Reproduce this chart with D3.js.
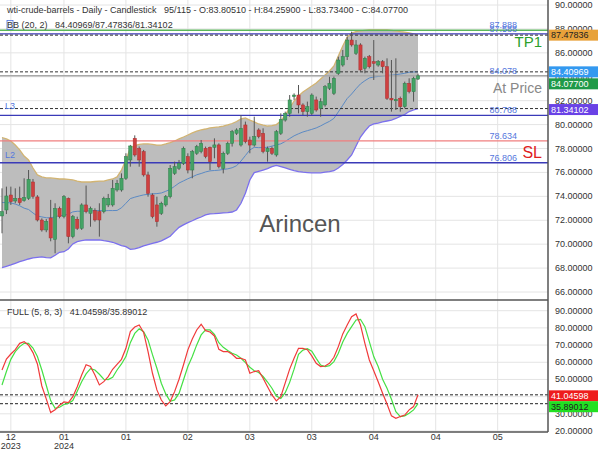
<!DOCTYPE html>
<html><head><meta charset="utf-8">
<script src="https://cdn.jsdelivr.net/npm/d3@7/dist/d3.min.js"></script>
<style>body{margin:0;background:#fff}svg{display:block;font-family:"Liberation Sans",Arial,sans-serif}</style>
</head><body><svg id="c" width="600" height="450"></svg>
<script>
// ---------- DATA ----------
const opens=[72.36,72.86,74.11,73.61,73.83,73.64,73.83,75.2,73.95,72.02,71.19,72.19,70.4,72.99,72.3,73.83,70.63,72.08,71.33,73.28,72.58,72.8,72.72,72.72,73.28,73.28,74.53,74.53,75.51,77.04,78.85,78.0,77.74,75.79,74.11,73.28,72.58,73.28,73.97,75.92,76.34,76.76,77.32,76.2,77.6,77.74,78.02,78.1,78.1,78.3,76.34,77.6,78.43,79.27,78.29,79.97,78.71,78.29,79.55,79.27,77.74,78.02,77.46,79.27,80.38,80.94,82.34,82.47,81.64,81.08,80.94,82.06,81.36,81.64,83.03,82.61,84.28,84.98,85.68,87.07,85.96,86.66,84.7,85.68,85.26,84.98,85.26,84.84,82.2,81.99,82.2,81.5,83.45,82.75,83.805];
const highs=[74.67,74.81,74.81,74.67,74.81,75.51,76.2,75.45,74.1,72.16,72.1,73.7,73.42,73.14,74.11,73.9,72.44,72.3,73.42,74.9,73.14,73.0,73.42,73.97,74.2,75.37,75.37,75.92,77.6,78.3,79.1,78.16,77.88,76.06,74.25,73.97,73.55,74.11,76.62,76.9,77.04,78.16,77.6,77.88,78.3,78.71,78.16,78.16,78.85,78.43,77.74,78.57,79.55,79.69,80.8,80.25,78.99,80.66,79.69,79.69,78.16,78.16,79.55,80.94,81.08,82.47,82.61,83.31,81.78,81.92,82.61,82.34,82.2,83.31,84.0,84.01,85.68,86.24,87.35,87.77,87.07,86.8,85.68,85.82,87.07,85.4,85.4,85.54,85.4,85.54,82.34,83.59,83.87,84.0,84.259];
const lows=[70.91,72.52,73.28,73.42,73.28,73.55,73.7,73.8,71.9,71.05,71.0,70.24,69.24,72.16,72.16,70.07,70.49,71.19,71.19,72.58,71.46,71.88,70.63,72.58,73.1,73.14,74.39,74.39,75.37,76.48,77.32,76.48,75.65,73.97,72.16,71.46,72.44,73.14,73.83,75.79,76.2,76.62,75.92,75.51,77.46,77.6,77.18,76.2,77.18,76.34,75.92,77.46,78.16,79.13,78.16,78.43,77.6,78.16,78.85,77.6,76.9,77.46,77.32,79.13,80.25,80.66,82.06,80.94,80.8,80.66,80.8,81.08,80.66,81.5,82.89,82.47,84.15,84.84,85.4,86.52,85.82,84.43,84.29,84.7,83.73,84.84,84.29,82.06,81.08,81.22,81.08,81.36,82.61,81.92,83.734];
const closes=[72.72,74.03,73.55,73.83,73.47,73.92,75.42,74.0,72.02,71.19,71.9,70.52,72.99,72.3,73.97,70.63,72.3,71.33,73.28,72.72,73.0,72.02,72.02,73.83,73.83,74.67,75.09,75.51,77.32,78.21,77.46,77.04,75.79,74.25,72.3,71.88,73.42,73.97,76.34,76.48,76.76,78.02,76.2,77.74,78.16,78.43,77.32,76.9,78.3,76.48,77.6,78.43,79.41,79.55,79.69,78.57,78.29,78.99,78.99,77.74,78.02,77.6,79.41,80.44,80.94,82.06,82.47,81.64,81.08,81.5,82.47,81.22,81.92,83.17,83.45,83.87,85.4,85.68,87.07,86.66,86.66,84.57,85.54,84.84,85.12,85.26,84.84,82.2,82.06,82.1,81.5,83.45,82.75,83.87,84.077];
const bbUpper=[78.92,78.80,78.63,78.29,77.88,77.37,77.04,76.37,75.79,75.62,75.54,75.54,75.50,75.45,75.45,75.41,75.37,75.28,75.20,75.20,75.20,75.24,75.28,75.28,75.37,75.45,75.62,76.20,77.04,78.04,78.25,78.34,78.38,78.38,78.34,78.29,78.29,78.38,78.50,78.63,78.80,78.96,79.13,79.30,79.46,79.55,79.63,79.72,79.76,79.80,79.88,79.97,80.09,80.26,80.47,80.55,80.38,80.22,80.05,79.95,79.88,79.92,80.00,80.30,80.80,81.39,81.97,82.39,82.73,82.98,83.23,83.48,83.81,84.15,84.48,84.90,85.74,86.57,87.32,87.66,87.78,87.83,87.87,87.91,87.91,87.91,87.91,87.91,87.87,87.83,87.78,87.74,87.66,87.58,87.47836];
const bbMiddle=[73.48,73.48,73.45,73.35,73.21,73.01,72.90,72.61,72.35,72.28,72.21,72.20,72.29,72.39,72.41,72.51,72.70,72.75,72.75,72.78,72.78,72.80,72.82,72.79,72.81,72.81,72.82,73.04,73.42,73.81,73.93,74.03,74.12,74.17,74.21,74.23,74.28,74.42,74.58,74.84,75.11,75.29,75.47,75.63,75.80,75.91,76.04,76.13,76.16,76.19,76.25,76.30,76.39,76.56,76.95,77.41,77.88,78.10,78.07,78.08,78.10,78.20,78.30,78.39,78.59,78.83,79.06,79.23,79.38,79.49,79.60,79.72,79.89,80.09,80.27,80.52,81.06,81.62,82.18,82.56,83.00,83.40,83.67,83.90,83.98,84.02,84.07,84.11,84.13,84.17,84.23,84.29,84.38,84.40,84.40969];
const bbLower=[68.04,68.15,68.26,68.40,68.54,68.65,68.76,68.85,68.90,68.93,68.87,68.85,69.07,69.32,69.37,69.60,70.02,70.21,70.29,70.35,70.35,70.35,70.35,70.29,70.24,70.16,70.02,69.88,69.79,69.57,69.60,69.71,69.85,69.96,70.07,70.16,70.27,70.46,70.66,71.05,71.41,71.61,71.80,71.96,72.13,72.27,72.44,72.53,72.55,72.58,72.61,72.63,72.69,72.86,73.42,74.26,75.37,75.98,76.09,76.20,76.31,76.48,76.59,76.48,76.37,76.26,76.15,76.06,76.02,75.99,75.96,75.96,75.97,76.02,76.06,76.14,76.37,76.66,77.04,77.46,78.21,78.96,79.46,79.88,80.05,80.13,80.22,80.30,80.38,80.51,80.68,80.84,81.09,81.22,81.34102];
const stochK=[55.5,61.9,64.8,67.3,71,72,69.9,65.6,59,46.2,38.7,30.7,32.3,35,36.9,36.5,40,45.8,52.6,58.6,57.5,52.6,46.8,48.7,51.7,55.9,58.8,61.7,68.1,77.8,80.5,81.7,77.4,66.2,53.6,43.9,38,34.6,37.1,42.9,50.1,58.4,67.2,73.5,78.8,82.1,78.4,77.6,75.3,67.5,66.2,66.2,64.6,62.3,62.3,61.3,53.6,54.6,55.1,50.7,45.8,41,37.5,40,48,56,62.3,68.1,68.1,67.3,63.7,59.4,57.5,57.8,59.4,62.9,69.1,76.5,81.7,86.5,88.1,81.7,71,61.3,55.1,48.7,42,35.7,28.8,27.4,28.4,29.3,32.3,34.2,41.04598];
const stochD=[46.8,54.6,61.7,66.2,69.1,71,71,68.3,63.3,55.5,46.6,37.7,33.2,33.8,35.4,36.1,37.7,43.1,48.7,53.2,56.3,55.5,53,50.1,49.9,51.3,55.5,59,63.3,71.4,76.8,79.5,77.8,73,64.4,56.5,47.8,41.6,37.3,38.1,41.9,49.7,57.5,63.3,70.1,75.9,78.8,78.8,76.3,71.4,68.7,66.8,65.2,64.2,62.3,59.8,57.1,55.1,54,51.7,48.5,44.9,40.4,38.9,42.3,48.3,56,64.6,67.1,67.9,66.4,62.3,58.4,57.5,58,60.4,65.2,71.8,76.8,80.7,84.6,85,80.7,72,63.3,57.5,50.1,44.9,38.5,31.3,28.4,28.8,30.3,32.3,35.89012];
const priceTicks=[66,68,70,72,74,76,78,80,82,84,86,88,90];
const oscTicks=[20,30,40,50,60,70,80,90,100];
const xTickIndex=[2,14,28,42,56,70,84,98,112];
const xTickLabels=[["12","2023"],["01","2024"],["01"],["02"],["03"],["03"],["04"],["04"],["05"]];
const levelValues=[87.888,87.588,84.078,80.768,78.634,76.806];
const levelTexts=["87.888","87.588","84.078","80.768","78.634","76.806"];
const bbLast=[84.40969,87.47836,81.34102];
const stochLast=[41.04598,35.89012];
const titleText="wti-crude-barrels - Daily - Candlestick   95/115 - O:83.80510 - H:84.25900 - L:83.73400 - C:84.07700";
const bbText="BB (20, 2)   84.40969/87.47836/81.34102";
const stochText="FULL (5, 8, 3)   41.04598/35.89012";

// ---------- DRAW ----------
const svg=d3.select("#c");
const R=548, mainBottom=300, lowBottom=432;
const idx=d3.range(closes.length);
const x=d3.scaleLinear().domain([0,94]).range([2,418]);
const y=d3.scaleLinear().domain([66,90]).range([292,5]);
const y2=d3.scaleLinear().domain([20,90]).range([431,310.7]);

const defs=svg.append("defs");
defs.append("clipPath").attr("id","cm").append("rect").attr("x",0).attr("y",0).attr("width",R).attr("height",mainBottom);
defs.append("clipPath").attr("id","cl").append("rect").attr("x",0).attr("y",mainBottom).attr("width",R).attr("height",lowBottom-mainBottom);
defs.append("clipPath").attr("id","cla").append("rect").attr("x",R).attr("y",mainBottom+1).attr("width",60).attr("height",lowBottom-mainBottom+20);

// grid
const grid=svg.append("g").attr("stroke","#e4e4e4").attr("stroke-width",1);
grid.selectAll(".vg").data(xTickIndex).join("line").attr("x1",d=>x(d)).attr("x2",d=>x(d)).attr("y1",0).attr("y2",lowBottom);
grid.selectAll(".hg").data(priceTicks).join("line").attr("x1",0).attr("x2",R).attr("y1",d=>y(d)).attr("y2",d=>y(d));
grid.selectAll(".hg2").data(oscTicks.filter(t=>t<100)).join("line").attr("x1",0).attr("x2",R).attr("y1",d=>y2(d)).attr("y2",d=>y2(d));

const main=svg.append("g").attr("clip-path","url(#cm)");
// BB band
main.append("path").datum(idx).attr("fill","#bdbdbd")
  .attr("d",d3.area().x(i=>x(i)).y0(i=>y(bbLower[i])).y1(i=>y(bbUpper[i])));
main.append("path").datum(idx).attr("fill","none").attr("stroke","#d2b472").attr("stroke-width",1.3)
  .attr("d",d3.line().x(i=>x(i)).y(i=>y(bbUpper[i])));
main.append("path").datum(idx).attr("fill","none").attr("stroke","#7b70ee").attr("stroke-width",1.3)
  .attr("d",d3.line().x(i=>x(i)).y(i=>y(bbLower[i])));
main.append("path").datum(idx).attr("fill","none").attr("stroke","#5b8ac4").attr("stroke-width",1)
  .attr("d",d3.line().x(i=>x(i)).y(i=>y(bbMiddle[i])));

// level lines
const levelColors=["#5cb85c","#3a3ab8","#a8a8a8","#3a3ab8","#f07f7f","#3a3ab8"];
main.selectAll(".lvl").data(levelValues).join("line")
  .attr("x1",0).attr("x2",R).attr("y1",d=>y(d)).attr("y2",d=>y(d))
  .attr("stroke",(d,i)=>levelColors[i]).attr("stroke-width",1.4);
// dashed BB last lines
main.selectAll(".dl").data(bbLast).join("line")
  .attr("x1",0).attr("x2",R).attr("y1",d=>y(d)).attr("y2",d=>y(d))
  .attr("stroke","#333").attr("stroke-width",1).attr("stroke-dasharray","3,2");

// candles
const cg=main.append("g");
cg.selectAll(".w").data(idx).join("line")
  .attr("x1",i=>x(i)).attr("x2",i=>x(i)).attr("y1",i=>y(highs[i])).attr("y2",i=>y(lows[i]))
  .attr("stroke","#555").attr("stroke-width",1);
cg.selectAll(".b").data(idx).join("rect")
  .attr("x",i=>x(i)-1.6).attr("width",3.2)
  .attr("y",i=>y(Math.max(opens[i],closes[i])))
  .attr("height",i=>Math.max(1,Math.abs(y(opens[i])-y(closes[i]))))
  .attr("fill",i=>closes[i]>=opens[i]?"#44a365":"#cf4040")
  .attr("stroke",i=>closes[i]>=opens[i]?"#2f7f4a":"#a83030").attr("stroke-width",0.5);

// level labels
svg.selectAll(".lt").data(levelValues).join("text")
  .attr("x",517).attr("y",(d,i)=>y(d)-2).attr("text-anchor","end")
  .attr("font-size",9).attr("fill","#5577dd").text((d,i)=>levelTexts[i]);
svg.append("text").attr("x",5).attr("y",y(levelValues[3])-6).attr("font-size",9).attr("fill","#5577dd").text("L3");
svg.append("text").attr("x",5).attr("y",y(levelValues[5])-5).attr("font-size",9).attr("fill","#5577dd").text("L2");
svg.append("text").attr("x",542).attr("y",y(levelValues[0])+17).attr("text-anchor","end").attr("font-size",15).attr("fill","#2ca02c").text("TP1");
svg.append("text").attr("x",542).attr("y",y(levelValues[2])+17).attr("text-anchor","end").attr("font-size",14).attr("fill","#888").text("At Price");
svg.append("text").attr("x",542).attr("y",y(levelValues[4])+17).attr("text-anchor","end").attr("font-size",16).attr("fill","#e02020").text("SL");

// watermark
svg.append("text").attr("x",300).attr("y",232).attr("text-anchor","middle").attr("font-size",24).attr("fill","#555").text("Arincen");

// lower panel
const low=svg.append("g").attr("clip-path","url(#cl)");
low.selectAll(".sd").data(stochLast).join("line")
  .attr("x1",0).attr("x2",R).attr("y1",d=>y2(d)).attr("y2",d=>y2(d))
  .attr("stroke","#222").attr("stroke-width",1).attr("stroke-dasharray","3,2");
low.append("path").datum(idx).attr("fill","none").attr("stroke","#44e044").attr("stroke-width",1.2)
  .attr("d",d3.line().x(i=>x(i)).y(i=>y2(stochD[i])));
low.append("path").datum(idx).attr("fill","none").attr("stroke","#f03a3a").attr("stroke-width",1.2)
  .attr("d",d3.line().x(i=>x(i)).y(i=>y2(stochK[i])));

// axes frame
const ax=svg.append("g").attr("stroke","#555").attr("stroke-width",1.5);
ax.append("line").attr("x1",R).attr("x2",R).attr("y1",0).attr("y2",lowBottom);
ax.append("line").attr("x1",0).attr("x2",R).attr("y1",mainBottom).attr("y2",mainBottom);
ax.append("line").attr("x1",0).attr("x2",R).attr("y1",lowBottom).attr("y2",lowBottom);

// right axis labels
const fmt=d3.format(".5f");
svg.append("g").selectAll("text").data(priceTicks).join("text")
  .attr("x",555).attr("y",d=>y(d)+3).attr("font-size",9).attr("fill","#333").text(d=>fmt(d));
svg.append("g").attr("clip-path","url(#cla)").selectAll("text").data(oscTicks).join("text")
  .attr("x",555).attr("y",d=>y2(d)+3).attr("font-size",9).attr("fill","#333").text(d=>fmt(d));

// value boxes
function box(val,yc,bg,fg){
  svg.append("rect").attr("x",549).attr("y",yc-5.5).attr("width",49).attr("height",11).attr("fill",bg);
  svg.append("text").attr("x",551).attr("y",yc+3.3).attr("font-size",9).attr("fill",fg).text(fmt(val));
}
box(bbLast[1],y(bbLast[1]),"#e8a23a","#222");
box(bbLast[0],y(bbLast[0]),"#3399f0","#fff");
box(closes[closes.length-1],y(closes[closes.length-1])+8,"#1f9a48","#fff");
box(bbLast[2],y(bbLast[2])+1,"#6a42e6","#fff");
box(stochLast[0],y2(stochLast[0])+1,"#ee1c1c","#fff");
box(stochLast[1],y2(stochLast[1])+3,"#22e022","#222");

// x labels
const xl=svg.append("g").attr("font-size",9).attr("fill","#333").attr("text-anchor","middle");
xTickIndex.forEach((t,k)=>{
  xTickLabels[k].forEach((s,j)=>{
    xl.append("text").attr("x",x(t)).attr("y",440+j*8.5).text(s);
  });
});

// headers
svg.append("text").attr("x",7).attr("y",13).attr("font-size",9).attr("fill","#333").attr("xml:space","preserve").text(titleText);
svg.append("rect").attr("x",7).attr("y",20.5).attr("width",6).attr("height",9).attr("fill","none").attr("stroke","#4a6fe0").attr("stroke-width",0.8);
svg.append("text").attr("x",7).attr("y",28).attr("font-size",9).attr("fill","#333").attr("xml:space","preserve").text(bbText);
svg.append("text").attr("x",7).attr("y",315).attr("font-size",9).attr("fill","#333").attr("xml:space","preserve").text(stochText);
</script></body></html>
